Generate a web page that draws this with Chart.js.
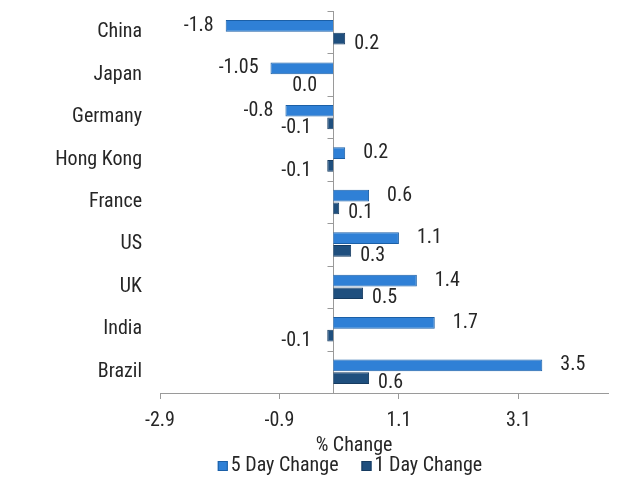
<!DOCTYPE html>
<html>
<head>
<meta charset="utf-8">
<script src="https://cdn.jsdelivr.net/npm/chart.js@4"></script>
<style>
  html, body { margin: 0; padding: 0; background: #fff; }
  #wrap { width: 628px; height: 483px; position: relative; }
</style>
</head>
<body>
<div id="wrap"><canvas id="chart"></canvas></div>
<script>
const countries = ['China', 'Japan', 'Germany', 'Hong Kong', 'France', 'US', 'UK', 'India', 'Brazil'];
const fiveDay = [-1.8, -1.05, -0.8, 0.2, 0.6, 1.1, 1.4, 1.7, 3.5];
const oneDay = [0.2, 0.0, -0.1, -0.1, 0.1, 0.3, 0.5, -0.1, 0.6];
const fiveDayText = ['-1.8', '-1.05', '-0.8', '0.2', '0.6', '1.1', '1.4', '1.7', '3.5'];
const oneDayText = ['0.2', '0.0', '-0.1', '-0.1', '0.1', '0.3', '0.5', '-0.1', '0.6'];
const xTicks = [-2.9, -0.9, 1.1, 3.1];

const font = '"Roboto Condensed", "Liberation Sans Narrow", "Roboto", sans-serif';
const fontSize = 20;
const textColor = '#262626';
const axisColor = '#9a9a9a';

// value labels beside each bar, Excel "outside end" style
const barLabels = {
    id: 'barLabels',
    afterDatasetsDraw(chart) {
        const ctx = chart.ctx;
        const texts = [fiveDayText, oneDayText];
        ctx.save();
        ctx.font = fontSize + 'px ' + font;
        ctx.fillStyle = textColor;
        ctx.textBaseline = 'middle';
        chart.data.datasets.forEach((ds, di) => {
            chart.getDatasetMeta(di).data.forEach((bar, i) => {
                const v = ds.data[i];
                const dy = di === 0 ? 0 : 5;
                if (v > 0) {
                    ctx.textAlign = 'left';
                    ctx.fillText(texts[di][i], bar.x + (di === 0 ? 18 : 9), bar.y + dy);
                } else {
                    ctx.textAlign = 'right';
                    ctx.fillText(texts[di][i], bar.x - (di === 0 ? 12 : 16), bar.y + dy);
                }
            });
        });
        ctx.restore();
    }
};

// vertical axis crossing at zero, category tick marks, axis title, legend
const zeroAxis = {
    id: 'zeroAxis',
    beforeDatasetsDraw(chart) {
        const ctx = chart.ctx;
        const area = chart.chartArea;
        const x0 = Math.round(chart.scales.x.getPixelForValue(0)) + 0.5;
        const y = chart.scales.y;
        ctx.save();
        ctx.strokeStyle = axisColor;
        ctx.lineWidth = 1;
        ctx.beginPath();
        ctx.moveTo(x0, area.top);
        ctx.lineTo(x0, area.bottom);
        const step = y.getPixelForValue(1) - y.getPixelForValue(0);
        for (let i = 0; i <= countries.length; i++) {
            const py = Math.round(y.getPixelForValue(i) - step / 2) + 0.5;
            ctx.moveTo(x0 - 6, py);
            ctx.lineTo(x0, py);
        }
        ctx.stroke();
        ctx.restore();
    },
    afterDraw(chart) {
        const ctx = chart.ctx;
        const xs = chart.scales.x;
        ctx.save();
        ctx.font = fontSize + 'px ' + font;
        ctx.fillStyle = textColor;
        ctx.textBaseline = 'middle';
        ctx.textAlign = 'center';
        ctx.fillText('% Change', 354, xs.top + 53);

        // legend row
        const ds = chart.data.datasets;
        const widths = ds.map(d => 13 + ctx.measureText(d.label).width);
        const gap = 23;
        let x = 350 - (widths[0] + widths[1] + gap) / 2;
        const ly = xs.top + 73;
        ctx.textAlign = 'left';
        ds.forEach((d, i) => {
            ctx.fillStyle = d.backgroundColor;
            ctx.fillRect(x, ly - 5, 10, 10);
            ctx.strokeStyle = d.borderColor;
            ctx.strokeRect(x + 0.5, ly - 4.5, 9, 9);
            ctx.fillStyle = textColor;
            ctx.fillText(d.label, x + 13, ly);
            x += widths[i] + gap;
        });
        ctx.restore();
    }
};

new Chart(document.getElementById('chart'), {
    type: 'bar',
    data: {
        labels: countries,
        datasets: [{
            label: '5 Day Change',
            data: fiveDay,
            backgroundColor: '#2f80d6',
            borderColor: '#1b5fa6',
            borderWidth: 1,
            categoryPercentage: 0.6,
            barPercentage: 0.92
        }, {
            label: '1 Day Change',
            data: oneDay,
            backgroundColor: '#1f4f7e',
            borderColor: '#163b60',
            borderWidth: 1,
            categoryPercentage: 0.6,
            barPercentage: 0.92
        }]
    },
    options: {
        indexAxis: 'y',
        responsive: true,
        maintainAspectRatio: false,
        animation: false,
        layout: { padding: { top: 11, right: 20, bottom: 40, left: 0 } },
        scales: {
            x: {
                min: -2.9,
                max: 4.6,
                afterBuildTicks: (scale) => { scale.ticks = xTicks.map(v => ({ value: v })); },
                border: { display: true, color: axisColor, width: 1 },
                grid: { drawOnChartArea: false, drawTicks: true, tickLength: 6, color: axisColor },
                ticks: {
                    color: textColor,
                    padding: 10,
                    maxRotation: 0,
                    font: { family: font, size: fontSize },
                    callback: (v) => v.toFixed(1)
                }
            },
            y: {
                afterFit: (scale) => {
                    scale.width = 160;
                    scale.paddingTop = 0;
                    scale.paddingBottom = 0;
                },
                border: { display: false },
                grid: { display: false, drawTicks: false },
                ticks: {
                    color: textColor,
                    padding: 18,
                    font: { family: font, size: fontSize }
                }
            }
        },
        plugins: {
            legend: { display: false },
            tooltip: { enabled: false }
        }
    },
    plugins: [zeroAxis, barLabels]
});
</script>
</body>
</html>
